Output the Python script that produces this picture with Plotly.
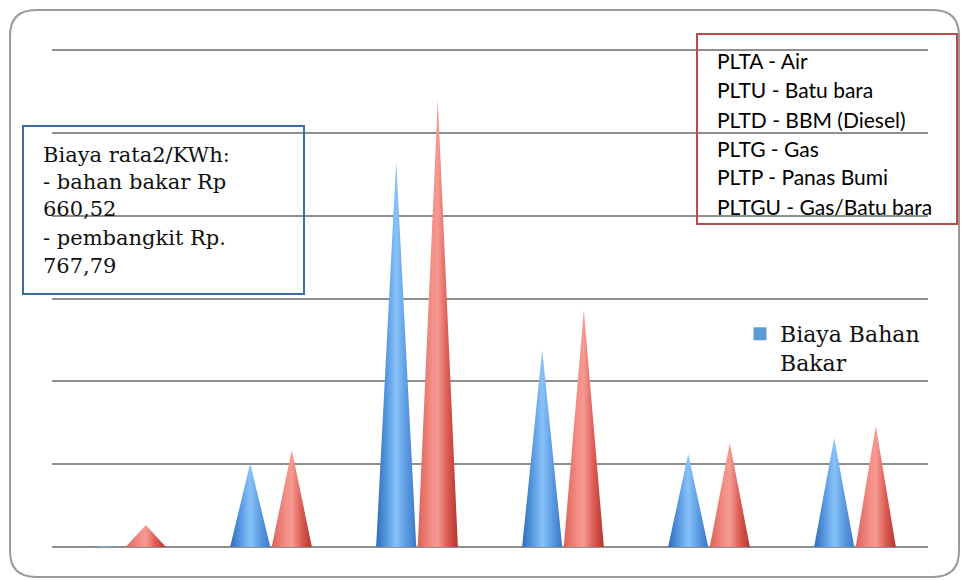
import plotly.graph_objects as go

# ---- data ----
categories = ["PLTA", "PLTU", "PLTD", "PLTG", "PLTP", "PLTGU"]
biaya_bahan_bakar = [5, 505, 2325, 1190, 562, 658]
biaya_pembangkit = [133, 586, 2700, 1431, 628, 731]
y_ticks = [0, 500, 1000, 1500, 2000, 2500, 3000]

info_lines = ["Biaya rata2/KWh:", "- bahan bakar Rp", "660,52", "- pembangkit Rp.", "767,79"]
jenis_lines = ["PLTA - Air", "PLTU - Batu bara", "PLTD - BBM (Diesel)", "PLTG - Gas",
               "PLTP - Panas Bumi", "PLTGU - Gas/Batu bara"]

# ---- layout geometry (pixels) ----
W, H = 961, 580
ML, MR, MT, MB = 52, 33, 48, 33
PW, PH = W - ML - MR, H - MT - MB
Y_TOP = 3000 * PH / (PH - 2)  # keeps the 3000 gridline 2px inside the plot area


def fx(px):
    return (px - ML) / PW


def fy(py):
    return 1 - (py - MT) / PH


CONE_W = 0.275
GAP = 0.005

blue_scale = [[0, "#2f6cb9"], [0.3, "#5f9fe6"], [0.5, "#88c2f8"], [0.75, "#5c9be2"], [1, "#3b78c6"]]
red_scale = [[0, "#dc6258"], [0.35, "#f48e85"], [0.5, "#f59a92"], [0.75, "#dc5a51"], [1, "#b3362f"]]

fig = go.Figure()


def add_cone(i, v, left, scale, color):
    x0 = i - GAP - CONE_W if left else i + GAP
    x1 = x0 + CONE_W
    fig.add_trace(go.Scatter(
        x=[x0, (x0 + x1) / 2, x1, x0],
        y=[0, v, 0, 0],
        mode="lines",
        fill="toself",
        fillcolor=color,
        fillgradient=dict(type="horizontal", colorscale=scale),
        line=dict(width=0, color=color),
        showlegend=False,
        hoverinfo="skip",
    ))


for i, v in enumerate(biaya_bahan_bakar):
    add_cone(i, v, True, blue_scale, "#5b9bd5")
for i, v in enumerate(biaya_pembangkit):
    add_cone(i, v, False, red_scale, "#e8665c")

# legend entry (only the blue series is visible in the reference)
fig.add_trace(go.Scatter(
    x=[None], y=[None], mode="markers",
    marker=dict(symbol="square", size=13, color="#5b9bd5"),
    name="Biaya Bahan<br>Bakar", showlegend=True,
))

shapes = []
# outer rounded border
x0, y0, x1, y1, r = 10, 10, 959, 577, 26
pts = (f"M {fx(x0 + r)},{fy(y0)} L {fx(x1 - r)},{fy(y0)} Q {fx(x1)},{fy(y0)} {fx(x1)},{fy(y0 + r)} "
       f"L {fx(x1)},{fy(y1 - r)} Q {fx(x1)},{fy(y1)} {fx(x1 - r)},{fy(y1)} "
       f"L {fx(x0 + r)},{fy(y1)} Q {fx(x0)},{fy(y1)} {fx(x0)},{fy(y1 - r)} "
       f"L {fx(x0)},{fy(y0 + r)} Q {fx(x0)},{fy(y0)} {fx(x0 + r)},{fy(y0)} Z")
shapes.append(dict(type="path", xref="paper", yref="paper", path=pts,
                   line=dict(color="#9a9a9a", width=2), layer="below"))
# info box (blue)
shapes.append(dict(type="rect", xref="paper", yref="paper",
                   x0=fx(23), x1=fx(304), y0=fy(294), y1=fy(126),
                   line=dict(color="#3a6ea5", width=2)))
# plant type box (red)
shapes.append(dict(type="rect", xref="paper", yref="paper",
                   x0=fx(697), x1=fx(957), y0=fy(224), y1=fy(34),
                   line=dict(color="#b84a4a", width=2)))

annotations = []
info_y = [155, 182, 209, 238, 266]
for t, yy in zip(info_lines, info_y):
    annotations.append(dict(text=t, xref="paper", yref="paper", x=fx(41), y=fy(yy),
                            xanchor="left", yanchor="middle", showarrow=False,
                            font=dict(family="DejaVu Serif", size=21, color="#111111")))
jenis_y = [60, 90, 119, 148, 177, 206]
for t, yy in zip(jenis_lines, jenis_y):
    annotations.append(dict(text=t, xref="paper", yref="paper", x=fx(715), y=fy(yy),
                            xanchor="left", yanchor="middle", showarrow=False,
                            font=dict(family="Lato", size=21, color="#000000")))

fig.update_layout(
    width=W, height=H,
    margin=dict(l=ML, r=MR, t=MT, b=MB),
    paper_bgcolor="white", plot_bgcolor="white",
    xaxis=dict(range=[-0.5, 5.5], showticklabels=False, showgrid=False, zeroline=False,
               tickvals=list(range(len(categories))), ticktext=categories, fixedrange=True),
    yaxis=dict(range=[0, Y_TOP], tickvals=y_ticks, showticklabels=False, showgrid=True,
               gridcolor="#8f8f8f", gridwidth=2, zeroline=True, zerolinecolor="#8f8f8f",
               zerolinewidth=2, fixedrange=True),
    shapes=shapes,
    annotations=annotations,
    showlegend=True,
    legend=dict(x=fx(740), y=fy(313), xanchor="left", yanchor="top", valign="top",
                bgcolor="rgba(0,0,0,0)",
                font=dict(family="DejaVu Serif", size=22, color="#111111")),
)

fig.write_html("out.html")
